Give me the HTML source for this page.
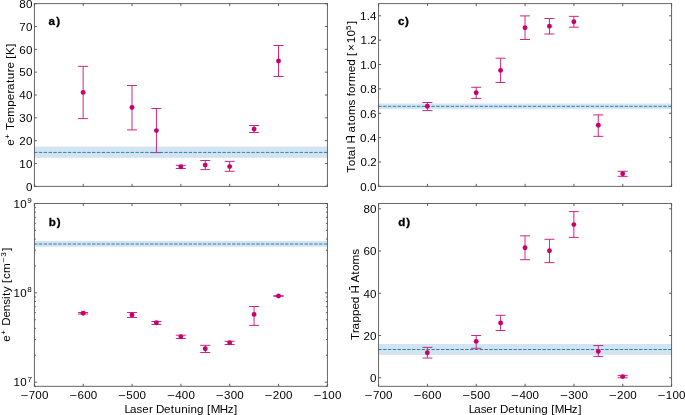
<!DOCTYPE html><html><head><meta charset="utf-8"><style>html,body{margin:0;padding:0;background:#fff;width:685px;height:415px;overflow:hidden}svg{display:block;will-change:transform}</style></head><body><svg width="685" height="415" viewBox="0 0 685 415">
<rect width="685" height="415" fill="#fff"/>
<g>
<rect x="34.4" y="146.6" width="293" height="11.2" fill="#D2E4F0"/>
<path d="M83.15 66.4V118.6M78.15 66.4H88.15M78.15 118.6H88.15M131.99 85.5V129.9M126.99 85.5H136.99M126.99 129.9H136.99M156.41 108.5V152.6M151.41 108.5H161.41M151.41 152.6H161.41M180.83 165.3V168.5M175.83 165.3H185.83M175.83 168.5H185.83M205.25 160.5V169.6M200.25 160.5H210.25M200.25 169.6H210.25M229.67 161.4V171.3M224.67 161.4H234.67M224.67 171.3H234.67M254.09 125.5V132.5M249.09 125.5H259.09M249.09 132.5H259.09M278.51 45.5V76.5M273.51 45.5H283.51M273.51 76.5H283.51" stroke="#CB1C79" stroke-width="0.95" fill="none"/>
<line x1="34.07" y1="152.4" x2="327.4" y2="152.4" stroke="#2a7dbb" stroke-width="1" stroke-dasharray="3.372 1.458"/>
<circle cx="83.15" cy="92.4" r="2.45" fill="#C8006E"/>
<circle cx="131.99" cy="107.5" r="2.45" fill="#C8006E"/>
<circle cx="156.41" cy="130.6" r="2.45" fill="#C8006E"/>
<circle cx="180.83" cy="166.7" r="2.45" fill="#C8006E"/>
<circle cx="205.25" cy="165.1" r="2.45" fill="#C8006E"/>
<circle cx="229.67" cy="166.6" r="2.45" fill="#C8006E"/>
<circle cx="254.09" cy="129.1" r="2.45" fill="#C8006E"/>
<circle cx="278.51" cy="61" r="2.45" fill="#C8006E"/>
<path d="M34.4 186.35v-2.5M34.4 3.65v2.5M83.23 186.35v-2.5M83.23 3.65v2.5M132.07 186.35v-2.5M132.07 3.65v2.5M180.9 186.35v-2.5M180.9 3.65v2.5M229.73 186.35v-2.5M229.73 3.65v2.5M278.57 186.35v-2.5M278.57 3.65v2.5M327.4 186.35v-2.5M327.4 3.65v2.5M34.4 186.35h2.5M327.4 186.35h-2.5M34.4 163.51h2.5M327.4 163.51h-2.5M34.4 140.68h2.5M327.4 140.68h-2.5M34.4 117.84h2.5M327.4 117.84h-2.5M34.4 95h2.5M327.4 95h-2.5M34.4 72.16h2.5M327.4 72.16h-2.5M34.4 49.32h2.5M327.4 49.32h-2.5M34.4 26.49h2.5M327.4 26.49h-2.5M34.4 3.65h2.5M327.4 3.65h-2.5" stroke="#333" stroke-width="0.8" fill="none"/>
<rect x="34.4" y="3.65" width="293" height="182.7" fill="none" stroke="#555" stroke-width="0.9"/>
<rect x="34.4" y="241" width="293" height="5.8" fill="#D2E4F0"/>
<path d="M83.15 312.5V314M78.15 312.5H88.15M78.15 314H88.15M131.99 312.5V317.45M126.99 312.5H136.99M126.99 317.45H136.99M156.41 321.5V324.45M151.41 321.5H161.41M151.41 324.45H161.41M180.83 335.2V338.5M175.83 335.2H185.83M175.83 338.5H185.83M205.25 345.3V352.5M200.25 345.3H210.25M200.25 352.5H210.25M229.67 341.3V344.5M224.67 341.3H234.67M224.67 344.5H234.67M254.09 306.5V325.4M249.09 306.5H259.09M249.09 325.4H259.09M278.51 295.7V296.3M273.51 295.7H283.51M273.51 296.3H283.51" stroke="#CB1C79" stroke-width="0.95" fill="none"/>
<line x1="34.07" y1="244" x2="327.4" y2="244" stroke="#2a7dbb" stroke-width="1" stroke-dasharray="3.372 1.458"/>
<circle cx="83.15" cy="313.25" r="2.45" fill="#C8006E"/>
<circle cx="131.99" cy="314.9" r="2.45" fill="#C8006E"/>
<circle cx="156.41" cy="322.8" r="2.45" fill="#C8006E"/>
<circle cx="180.83" cy="336.7" r="2.45" fill="#C8006E"/>
<circle cx="205.25" cy="348.8" r="2.45" fill="#C8006E"/>
<circle cx="229.67" cy="342.8" r="2.45" fill="#C8006E"/>
<circle cx="254.09" cy="314.4" r="2.45" fill="#C8006E"/>
<circle cx="278.51" cy="296" r="2.45" fill="#C8006E"/>
<path d="M34.4 386.3v-2.5M34.4 203.55v2.5M83.23 386.3v-2.5M83.23 203.55v2.5M132.07 386.3v-2.5M132.07 203.55v2.5M180.9 386.3v-2.5M180.9 203.55v2.5M229.73 386.3v-2.5M229.73 203.55v2.5M278.57 386.3v-2.5M278.57 203.55v2.5M327.4 386.3v-2.5M327.4 203.55v2.5M34.4 382.2h2.5M327.4 382.2h-2.5M34.4 292.85h2.5M327.4 292.85h-2.5M34.4 203.5h2.5M327.4 203.5h-2.5M34.4 386.29h1.5M327.4 386.29h-1.5M34.4 355.3h1.5M327.4 355.3h-1.5M34.4 339.57h1.5M327.4 339.57h-1.5M34.4 328.41h1.5M327.4 328.41h-1.5M34.4 319.75h1.5M327.4 319.75h-1.5M34.4 312.67h1.5M327.4 312.67h-1.5M34.4 306.69h1.5M327.4 306.69h-1.5M34.4 301.51h1.5M327.4 301.51h-1.5M34.4 296.94h1.5M327.4 296.94h-1.5M34.4 265.95h1.5M327.4 265.95h-1.5M34.4 250.22h1.5M327.4 250.22h-1.5M34.4 239.06h1.5M327.4 239.06h-1.5M34.4 230.4h1.5M327.4 230.4h-1.5M34.4 223.32h1.5M327.4 223.32h-1.5M34.4 217.34h1.5M327.4 217.34h-1.5M34.4 212.16h1.5M327.4 212.16h-1.5M34.4 207.59h1.5M327.4 207.59h-1.5" stroke="#333" stroke-width="0.8" fill="none"/>
<rect x="34.4" y="203.55" width="293" height="182.75" fill="none" stroke="#555" stroke-width="0.9"/>
<rect x="378.6" y="103.5" width="293" height="5.6" fill="#D2E4F0"/>
<path d="M427.35 102.5V110.6M422.35 102.5H432.35M422.35 110.6H432.35M476.19 87.3V98.4M471.19 87.3H481.19M471.19 98.4H481.19M500.61 58.2V82.5M495.61 58.2H505.61M495.61 82.5H505.61M525.03 15.9V39.5M520.03 15.9H530.03M520.03 39.5H530.03M549.45 18.5V34M544.45 18.5H554.45M544.45 34H554.45M573.87 16.35V27.2M568.87 16.35H578.87M568.87 27.2H578.87M598.29 114.9V136.35M593.29 114.9H603.29M593.29 136.35H603.29M622.71 171.3V176.35M617.71 171.3H627.71M617.71 176.35H627.71" stroke="#CB1C79" stroke-width="0.95" fill="none"/>
<line x1="378.27" y1="106.35" x2="671.6" y2="106.35" stroke="#2a7dbb" stroke-width="1" stroke-dasharray="3.372 1.458"/>
<circle cx="427.35" cy="106.3" r="2.45" fill="#C8006E"/>
<circle cx="476.19" cy="92.8" r="2.45" fill="#C8006E"/>
<circle cx="500.61" cy="70.4" r="2.45" fill="#C8006E"/>
<circle cx="525.03" cy="27.7" r="2.45" fill="#C8006E"/>
<circle cx="549.45" cy="26.3" r="2.45" fill="#C8006E"/>
<circle cx="573.87" cy="21.7" r="2.45" fill="#C8006E"/>
<circle cx="598.29" cy="125.2" r="2.45" fill="#C8006E"/>
<circle cx="622.71" cy="173.7" r="2.45" fill="#C8006E"/>
<path d="M378.6 186.35v-2.5M378.6 3.65v2.5M427.43 186.35v-2.5M427.43 3.65v2.5M476.27 186.35v-2.5M476.27 3.65v2.5M525.1 186.35v-2.5M525.1 3.65v2.5M573.93 186.35v-2.5M573.93 3.65v2.5M622.77 186.35v-2.5M622.77 3.65v2.5M671.6 186.35v-2.5M671.6 3.65v2.5M378.6 186.35h2.5M671.6 186.35h-2.5M378.6 161.99h2.5M671.6 161.99h-2.5M378.6 137.62h2.5M671.6 137.62h-2.5M378.6 113.26h2.5M671.6 113.26h-2.5M378.6 88.89h2.5M671.6 88.89h-2.5M378.6 64.53h2.5M671.6 64.53h-2.5M378.6 40.17h2.5M671.6 40.17h-2.5M378.6 15.8h2.5M671.6 15.8h-2.5" stroke="#333" stroke-width="0.8" fill="none"/>
<rect x="378.6" y="3.65" width="293" height="182.7" fill="none" stroke="#555" stroke-width="0.9"/>
<rect x="378.6" y="344" width="293" height="10.9" fill="#D2E4F0"/>
<path d="M427.35 347.4V358.05M422.35 347.4H432.35M422.35 358.05H432.35M476.19 335.5V348.3M471.19 335.5H481.19M471.19 348.3H481.19M500.61 315.3V330.5M495.61 315.3H505.61M495.61 330.5H505.61M525.03 235.85V259.7M520.03 235.85H530.03M520.03 259.7H530.03M549.45 239.3V262.6M544.45 239.3H554.45M544.45 262.6H554.45M573.87 211.6V237.4M568.87 211.6H578.87M568.87 237.4H578.87M598.29 345.6V356.4M593.29 345.6H603.29M593.29 356.4H603.29M622.71 375.4V377.8M617.71 375.4H627.71M617.71 377.8H627.71" stroke="#CB1C79" stroke-width="0.95" fill="none"/>
<line x1="378.27" y1="349.5" x2="671.6" y2="349.5" stroke="#2a7dbb" stroke-width="1" stroke-dasharray="3.372 1.458"/>
<circle cx="427.35" cy="352.7" r="2.45" fill="#C8006E"/>
<circle cx="476.19" cy="341.4" r="2.45" fill="#C8006E"/>
<circle cx="500.61" cy="322.9" r="2.45" fill="#C8006E"/>
<circle cx="525.03" cy="247.8" r="2.45" fill="#C8006E"/>
<circle cx="549.45" cy="250.8" r="2.45" fill="#C8006E"/>
<circle cx="573.87" cy="224.6" r="2.45" fill="#C8006E"/>
<circle cx="598.29" cy="351.4" r="2.45" fill="#C8006E"/>
<circle cx="622.71" cy="376.6" r="2.45" fill="#C8006E"/>
<path d="M378.6 386.3v-2.5M378.6 203.55v2.5M427.43 386.3v-2.5M427.43 203.55v2.5M476.27 386.3v-2.5M476.27 203.55v2.5M525.1 386.3v-2.5M525.1 203.55v2.5M573.93 386.3v-2.5M573.93 203.55v2.5M622.77 386.3v-2.5M622.77 203.55v2.5M671.6 386.3v-2.5M671.6 203.55v2.5M378.6 377.75h2.5M671.6 377.75h-2.5M378.6 335.51h2.5M671.6 335.51h-2.5M378.6 293.27h2.5M671.6 293.27h-2.5M378.6 251.04h2.5M671.6 251.04h-2.5M378.6 208.8h2.5M671.6 208.8h-2.5" stroke="#333" stroke-width="0.8" fill="none"/>
<rect x="378.6" y="203.55" width="293" height="182.75" fill="none" stroke="#555" stroke-width="0.9"/>
<g font-family="'Liberation Sans', sans-serif" fill="#000">
<g transform="translate(31.75 190.66)" font-size="10.94"><text transform="scale(1.06 1)"><tspan x="-5.51" y="0">0</tspan></text></g>
<g transform="translate(31.75 167.82)" font-size="10.94"><text transform="scale(1.06 1)"><tspan x="-11.79" y="0">1</tspan><tspan x="-5.51" y="0">0</tspan></text></g>
<g transform="translate(31.75 144.99)" font-size="10.94"><text transform="scale(1.06 1)"><tspan x="-11.86" y="0">2</tspan><tspan x="-5.51" y="0">0</tspan></text></g>
<g transform="translate(31.75 122.15)" font-size="10.94"><text transform="scale(1.06 1)"><tspan x="-11.72" y="0">3</tspan><tspan x="-5.51" y="0">0</tspan></text></g>
<g transform="translate(31.75 99.31)" font-size="10.94"><text transform="scale(1.06 1)"><tspan x="-11.73" y="0">4</tspan><tspan x="-5.51" y="0">0</tspan></text></g>
<g transform="translate(31.75 76.47)" font-size="10.94"><text transform="scale(1.06 1)"><tspan x="-11.77" y="0">5</tspan><tspan x="-5.51" y="0">0</tspan></text></g>
<g transform="translate(31.75 53.63)" font-size="10.94"><text transform="scale(1.06 1)"><tspan x="-11.73" y="0">6</tspan><tspan x="-5.51" y="0">0</tspan></text></g>
<g transform="translate(31.75 30.8)" font-size="10.94"><text transform="scale(1.06 1)"><tspan x="-11.75" y="0">7</tspan><tspan x="-5.51" y="0">0</tspan></text></g>
<g transform="translate(31.75 7.96)" font-size="10.94"><text transform="scale(1.06 1)"><tspan x="-11.73" y="0">8</tspan><tspan x="-5.51" y="0">0</tspan></text></g>
<g transform="translate(375.95 190.66)" font-size="10.94"><text transform="scale(1.06 1)"><tspan x="-14.84" y="0">0</tspan><tspan x="-8.65" y="0">.</tspan><tspan x="-5.51" y="0">0</tspan></text></g>
<g transform="translate(375.95 166.3)" font-size="10.94"><text transform="scale(1.06 1)"><tspan x="-14.51" y="0">0</tspan><tspan x="-8.32" y="0">.</tspan><tspan x="-5.31" y="0">2</tspan></text></g>
<g transform="translate(375.95 141.93)" font-size="10.94"><text transform="scale(1.06 1)"><tspan x="-14.94" y="0">0</tspan><tspan x="-8.75" y="0">.</tspan><tspan x="-5.61" y="0">4</tspan></text></g>
<g transform="translate(375.95 117.57)" font-size="10.94"><text transform="scale(1.06 1)"><tspan x="-14.87" y="0">0</tspan><tspan x="-8.69" y="0">.</tspan><tspan x="-5.54" y="0">6</tspan></text></g>
<g transform="translate(375.95 93.2)" font-size="10.94"><text transform="scale(1.06 1)"><tspan x="-14.82" y="0">0</tspan><tspan x="-8.63" y="0">.</tspan><tspan x="-5.49" y="0">8</tspan></text></g>
<g transform="translate(375.95 68.84)" font-size="10.94"><text transform="scale(1.06 1)"><tspan x="-14.9" y="0">1</tspan><tspan x="-8.65" y="0">.</tspan><tspan x="-5.51" y="0">0</tspan></text></g>
<g transform="translate(375.95 44.48)" font-size="10.94"><text transform="scale(1.06 1)"><tspan x="-14.57" y="0">1</tspan><tspan x="-8.32" y="0">.</tspan><tspan x="-5.31" y="0">2</tspan></text></g>
<g transform="translate(375.95 20.11)" font-size="10.94"><text transform="scale(1.06 1)"><tspan x="-15" y="0">1</tspan><tspan x="-8.75" y="0">.</tspan><tspan x="-5.61" y="0">4</tspan></text></g>
<g transform="translate(375.95 382.06)" font-size="10.94"><text transform="scale(1.06 1)"><tspan x="-5.51" y="0">0</tspan></text></g>
<g transform="translate(375.95 339.82)" font-size="10.94"><text transform="scale(1.06 1)"><tspan x="-11.86" y="0">2</tspan><tspan x="-5.51" y="0">0</tspan></text></g>
<g transform="translate(375.95 297.58)" font-size="10.94"><text transform="scale(1.06 1)"><tspan x="-11.73" y="0">4</tspan><tspan x="-5.51" y="0">0</tspan></text></g>
<g transform="translate(375.95 255.35)" font-size="10.94"><text transform="scale(1.06 1)"><tspan x="-11.73" y="0">6</tspan><tspan x="-5.51" y="0">0</tspan></text></g>
<g transform="translate(375.95 213.11)" font-size="10.94"><text transform="scale(1.06 1)"><tspan x="-11.73" y="0">8</tspan><tspan x="-5.51" y="0">0</tspan></text></g>
<g transform="translate(31.4 386.36)" font-size="10.94"><text transform="scale(1.06 1)"><tspan x="-16.78" y="0">1</tspan><tspan x="-10.49" y="0">0</tspan><tspan x="-3.74" y="-4.67" font-size="7.66">7</tspan></text></g>
<g transform="translate(31.4 297.01)" font-size="10.94"><text transform="scale(1.06 1)"><tspan x="-16.9" y="0">1</tspan><tspan x="-10.61" y="0">0</tspan><tspan x="-3.84" y="-4.67" font-size="7.66">8</tspan></text></g>
<g transform="translate(31.4 207.66)" font-size="10.94"><text transform="scale(1.06 1)"><tspan x="-16.88" y="0">1</tspan><tspan x="-10.6" y="0">0</tspan><tspan x="-3.85" y="-4.67" font-size="7.66">9</tspan></text></g>
<g transform="translate(34.4 398.6)" font-size="10.94"><text transform="scale(1.06 1)"><tspan x="-5.38" y="0">7</tspan><tspan x="0.86" y="0">0</tspan><tspan x="7.08" y="0">0</tspan></text><text transform="translate(-14.01 0) scale(1.221 1)" font-size="10.94">−</text></g>
<g transform="translate(83.23 398.6)" font-size="10.94"><text transform="scale(1.06 1)"><tspan x="-5.37" y="0">6</tspan><tspan x="0.86" y="0">0</tspan><tspan x="7.08" y="0">0</tspan></text><text transform="translate(-14.01 0) scale(1.221 1)" font-size="10.94">−</text></g>
<g transform="translate(132.07 398.6)" font-size="10.94"><text transform="scale(1.06 1)"><tspan x="-5.4" y="0">5</tspan><tspan x="0.86" y="0">0</tspan><tspan x="7.08" y="0">0</tspan></text><text transform="translate(-14.01 0) scale(1.221 1)" font-size="10.94">−</text></g>
<g transform="translate(180.9 398.6)" font-size="10.94"><text transform="scale(1.06 1)"><tspan x="-5.36" y="0">4</tspan><tspan x="0.86" y="0">0</tspan><tspan x="7.08" y="0">0</tspan></text><text transform="translate(-14.01 0) scale(1.221 1)" font-size="10.94">−</text></g>
<g transform="translate(229.73 398.6)" font-size="10.94"><text transform="scale(1.06 1)"><tspan x="-5.35" y="0">3</tspan><tspan x="0.86" y="0">0</tspan><tspan x="7.08" y="0">0</tspan></text><text transform="translate(-14.01 0) scale(1.221 1)" font-size="10.94">−</text></g>
<g transform="translate(278.57 398.6)" font-size="10.94"><text transform="scale(1.06 1)"><tspan x="-5.49" y="0">2</tspan><tspan x="0.86" y="0">0</tspan><tspan x="7.08" y="0">0</tspan></text><text transform="translate(-14.01 0) scale(1.221 1)" font-size="10.94">−</text></g>
<g transform="translate(327.4 398.6)" font-size="10.94"><text transform="scale(1.06 1)"><tspan x="-5.43" y="0">1</tspan><tspan x="0.86" y="0">0</tspan><tspan x="7.08" y="0">0</tspan></text><text transform="translate(-14.01 0) scale(1.221 1)" font-size="10.94">−</text></g>
<g transform="translate(378.6 398.6)" font-size="10.94"><text transform="scale(1.06 1)"><tspan x="-5.38" y="0">7</tspan><tspan x="0.86" y="0">0</tspan><tspan x="7.08" y="0">0</tspan></text><text transform="translate(-14.01 0) scale(1.221 1)" font-size="10.94">−</text></g>
<g transform="translate(427.43 398.6)" font-size="10.94"><text transform="scale(1.06 1)"><tspan x="-5.37" y="0">6</tspan><tspan x="0.86" y="0">0</tspan><tspan x="7.08" y="0">0</tspan></text><text transform="translate(-14.01 0) scale(1.221 1)" font-size="10.94">−</text></g>
<g transform="translate(476.27 398.6)" font-size="10.94"><text transform="scale(1.06 1)"><tspan x="-5.4" y="0">5</tspan><tspan x="0.86" y="0">0</tspan><tspan x="7.08" y="0">0</tspan></text><text transform="translate(-14.01 0) scale(1.221 1)" font-size="10.94">−</text></g>
<g transform="translate(525.1 398.6)" font-size="10.94"><text transform="scale(1.06 1)"><tspan x="-5.36" y="0">4</tspan><tspan x="0.86" y="0">0</tspan><tspan x="7.08" y="0">0</tspan></text><text transform="translate(-14.01 0) scale(1.221 1)" font-size="10.94">−</text></g>
<g transform="translate(573.93 398.6)" font-size="10.94"><text transform="scale(1.06 1)"><tspan x="-5.35" y="0">3</tspan><tspan x="0.86" y="0">0</tspan><tspan x="7.08" y="0">0</tspan></text><text transform="translate(-14.01 0) scale(1.221 1)" font-size="10.94">−</text></g>
<g transform="translate(622.77 398.6)" font-size="10.94"><text transform="scale(1.06 1)"><tspan x="-5.49" y="0">2</tspan><tspan x="0.86" y="0">0</tspan><tspan x="7.08" y="0">0</tspan></text><text transform="translate(-14.01 0) scale(1.221 1)" font-size="10.94">−</text></g>
<g transform="translate(671.6 398.6)" font-size="10.94"><text transform="scale(1.06 1)"><tspan x="-5.43" y="0">1</tspan><tspan x="0.86" y="0">0</tspan><tspan x="7.08" y="0">0</tspan></text><text transform="translate(-14.01 0) scale(1.221 1)" font-size="10.94">−</text></g>
<g transform="translate(181 412.5)" font-size="10.94"><text transform="scale(1.06 1)"><tspan x="-53.33" y="0">L</tspan><tspan x="-48.18" y="0">a</tspan><tspan x="-41.87" y="0">s</tspan><tspan x="-36.67" y="0">e</tspan><tspan x="-30.28" y="0">r</tspan><tspan x="-23.69" y="0">D</tspan><tspan x="-15.99" y="0">e</tspan><tspan x="-9.59" y="0">t</tspan><tspan x="-6.08" y="0">u</tspan><tspan x="0.16" y="0">n</tspan><tspan x="6.43" y="0">i</tspan><tspan x="9.08" y="0">n</tspan><tspan x="15.21" y="0">g</tspan><tspan x="24.5" y="0">[</tspan><tspan x="28" y="0">M</tspan><tspan x="36.5" y="0">H</tspan><tspan x="44.01" y="0">z</tspan><tspan x="50.06" y="0">]</tspan></text></g>
<g transform="translate(525.2 412.5)" font-size="10.94"><text transform="scale(1.06 1)"><tspan x="-53.33" y="0">L</tspan><tspan x="-48.18" y="0">a</tspan><tspan x="-41.87" y="0">s</tspan><tspan x="-36.67" y="0">e</tspan><tspan x="-30.28" y="0">r</tspan><tspan x="-23.69" y="0">D</tspan><tspan x="-15.99" y="0">e</tspan><tspan x="-9.59" y="0">t</tspan><tspan x="-6.08" y="0">u</tspan><tspan x="0.16" y="0">n</tspan><tspan x="6.43" y="0">i</tspan><tspan x="9.08" y="0">n</tspan><tspan x="15.21" y="0">g</tspan><tspan x="24.5" y="0">[</tspan><tspan x="28" y="0">M</tspan><tspan x="36.5" y="0">H</tspan><tspan x="44.01" y="0">z</tspan><tspan x="50.06" y="0">]</tspan></text></g>
<g transform="translate(14.3 95) rotate(-90)" font-size="10.94"><text transform="scale(1.06 1)"><tspan x="-47.99" y="0">e</tspan><tspan x="-41.33" y="-3.97" font-size="7.66">+</tspan><tspan x="-33.08" y="0">T</tspan><tspan x="-26.76" y="0">e</tspan><tspan x="-20.5" y="0">m</tspan><tspan x="-11.08" y="0">p</tspan><tspan x="-5" y="0">e</tspan><tspan x="1.39" y="0">r</tspan><tspan x="4.62" y="0">a</tspan><tspan x="11.41" y="0">t</tspan><tspan x="14.92" y="0">u</tspan><tspan x="21.44" y="0">r</tspan><tspan x="25.09" y="0">e</tspan><tspan x="34.22" y="0">[</tspan><tspan x="37.8" y="0">K</tspan><tspan x="45.25" y="0">]</tspan></text></g>
<g transform="translate(10.1 295) rotate(-90)" font-size="10.94"><text transform="scale(1.06 1)"><tspan x="-44.14" y="0">e</tspan><tspan x="-37.47" y="-3.97" font-size="7.66">+</tspan><tspan x="-29.05" y="0">D</tspan><tspan x="-21.35" y="0">e</tspan><tspan x="-15.24" y="0">n</tspan><tspan x="-9.24" y="0">s</tspan><tspan x="-3.87" y="0">i</tspan><tspan x="-0.94" y="0">t</tspan><tspan x="2.69" y="0">y</tspan><tspan x="11.42" y="0">[</tspan><tspan x="15.08" y="0">c</tspan><tspan x="20.86" y="0">m</tspan><tspan x="36.04" y="-3.97" font-size="7.66">3</tspan><tspan x="41.4" y="0">]</tspan></text><text transform="translate(32.37 -3.97) scale(1.221 1)" font-size="7.66">−</text></g>
<g transform="translate(355.2 97.2) rotate(-90)" font-size="10.94"><text transform="scale(1.06 1)"><tspan x="-71.39" y="0">T</tspan><tspan x="-65.11" y="0">o</tspan><tspan x="-58.71" y="0">t</tspan><tspan x="-55.67" y="0">a</tspan><tspan x="-49.11" y="0">l</tspan><tspan x="-43.7" y="0">H</tspan><tspan x="-33.38" y="0">a</tspan><tspan x="-26.59" y="0">t</tspan><tspan x="-23.17" y="0">o</tspan><tspan x="-16.91" y="0">m</tspan><tspan x="-7.73" y="0">s</tspan><tspan x="0.92" y="0">f</tspan><tspan x="3.99" y="0">o</tspan><tspan x="10.39" y="0">r</tspan><tspan x="14.28" y="0">m</tspan><tspan x="23.56" y="0">e</tspan><tspan x="29.61" y="0">d</tspan><tspan x="38.9" y="0">[</tspan><tspan x="43.64" y="0">×</tspan><tspan x="50.94" y="0">1</tspan><tspan x="57.22" y="0">0</tspan><tspan x="63.49" y="-3.97" font-size="7.66">5</tspan><tspan x="68.89" y="0">]</tspan></text><rect x="-42.63" y="-9.28" width="3.03" height="1"/></g>
<g transform="translate(358.9 294.7) rotate(-90)" font-size="10.94"><text transform="scale(1.06 1)"><tspan x="-42.78" y="0">T</tspan><tspan x="-36.09" y="0">r</tspan><tspan x="-32.86" y="0">a</tspan><tspan x="-26.32" y="0">p</tspan><tspan x="-20.11" y="0">p</tspan><tspan x="-14.03" y="0">e</tspan><tspan x="-7.98" y="0">d</tspan><tspan x="1.05" y="0">H</tspan><tspan x="11.49" y="0">A</tspan><tspan x="18.85" y="0">t</tspan><tspan x="22.27" y="0">o</tspan><tspan x="28.54" y="0">m</tspan><tspan x="37.72" y="0">s</tspan></text><rect x="4.8" y="-9.73" width="3.03" height="1"/></g>
<g transform="translate(49 25)" font-size="10.94" font-weight="bold" stroke="#000" stroke-width="0.3"><text transform="scale(1.06 1)"><tspan x="-0.53" y="0">a</tspan><tspan x="6.83" y="0">)</tspan></text></g>
<g transform="translate(49.4 225.8)" font-size="10.94" font-weight="bold" stroke="#000" stroke-width="0.3"><text transform="scale(1.06 1)"><tspan x="-0.61" y="0">b</tspan><tspan x="6.83" y="0">)</tspan></text></g>
<g transform="translate(398.7 25)" font-size="10.94" font-weight="bold" stroke="#000" stroke-width="0.3"><text transform="scale(1.06 1)"><tspan x="-0.73" y="0">c</tspan><tspan x="6.03" y="0">)</tspan></text></g>
<g transform="translate(398.7 225.6)" font-size="10.94" font-weight="bold" stroke="#000" stroke-width="0.3"><text transform="scale(1.06 1)"><tspan x="-0.33" y="0">d</tspan><tspan x="7.22" y="0">)</tspan></text></g>
</g>
</g>
</svg></body></html>
